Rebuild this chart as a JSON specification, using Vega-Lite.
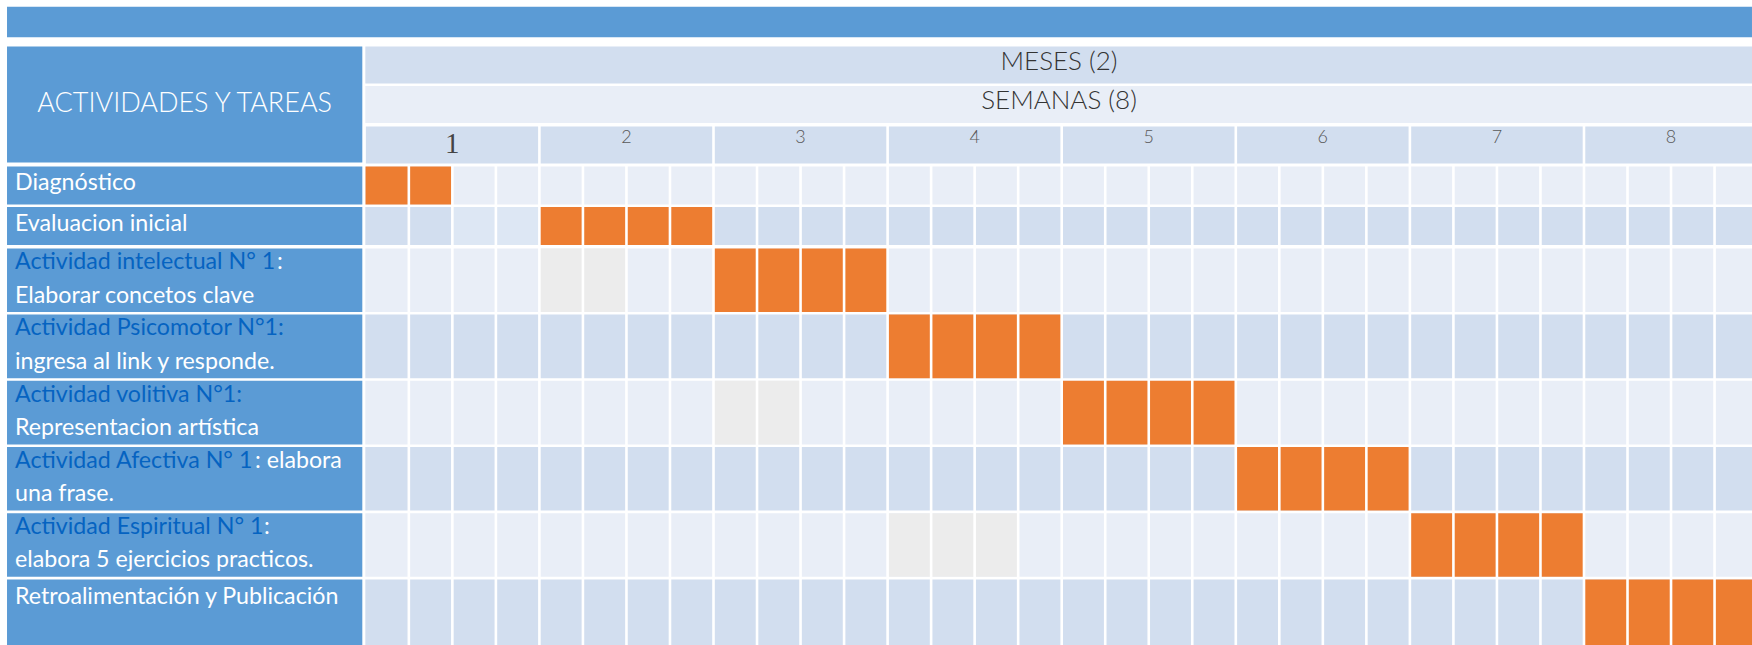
{
  "$schema": "https://vega.github.io/schema/vega-lite/v6.json",
  "background": "white",
  "padding": {"left": 7, "top": 6.7, "right": 0, "bottom": 0},
  "config": {"view": {"stroke": null}},
  "datasets": {
    "encabezado": [
      {"fila": "MESES", "texto": "MESES (2)", "tono": "oscura"},
      {"fila": "SEMANAS", "texto": "SEMANAS (8)", "tono": "clara"}
    ],
    "semanas": [
      {"semana": 1, "fila": "SEMANA", "tono": "oscura"},
      {"semana": 2, "fila": "SEMANA", "tono": "oscura"},
      {"semana": 3, "fila": "SEMANA", "tono": "oscura"},
      {"semana": 4, "fila": "SEMANA", "tono": "oscura"},
      {"semana": 5, "fila": "SEMANA", "tono": "oscura"},
      {"semana": 6, "fila": "SEMANA", "tono": "oscura"},
      {"semana": 7, "fila": "SEMANA", "tono": "oscura"},
      {"semana": 8, "fila": "SEMANA", "tono": "oscura"}
    ],
    "filas": [
      {"grupo": "simple", "fila": "Diagnóstico", "tono": "clara", "linea1": "Diagnóstico"},
      {"grupo": "simple", "fila": "Evaluacion inicial", "tono": "oscura", "linea1": "Evaluacion inicial"},
      {"grupo": "doble", "fila": "Actividad intelectual", "tono": "clara", "enlace": "Actividad intelectual N° 1", "cola": ":", "linea2": "Elaborar concetos clave"},
      {"grupo": "doble", "fila": "Actividad psicomotor", "tono": "oscura", "enlace": "Actividad  Psicomotor N°1:", "linea2": "ingresa al link  y responde."},
      {"grupo": "doble", "fila": "Actividad volitiva", "tono": "clara", "enlace": "Actividad volitiva  N°1:", "linea2": "Representacion artística"},
      {"grupo": "doble", "fila": "Actividad afectiva", "tono": "oscura", "enlace": "Actividad  Afectiva N° 1", "cola": ":  elabora", "linea2": "una frase."},
      {"grupo": "doble", "fila": "Actividad espiritual", "tono": "clara", "enlace": "Actividad Espiritual N° 1", "cola": ":", "linea2": "elabora 5 ejercicios practicos."},
      {"grupo": "ultima", "fila": "Retroalimentación", "tono": "oscura", "linea1": "Retroalimentación y Publicación"}
    ],
    "celdas": [
      {"grupo": "simple", "fila": "Diagnóstico", "inicio": 1, "fin": 1.5, "tono": "tarea"},
      {"grupo": "simple", "fila": "Evaluacion inicial", "inicio": 1.5, "fin": 2, "tono": "celeste"},
      {"grupo": "simple", "fila": "Evaluacion inicial", "inicio": 2, "fin": 3, "tono": "tarea"},
      {"grupo": "doble", "fila": "Actividad intelectual", "inicio": 2, "fin": 2.5, "tono": "gris"},
      {"grupo": "doble", "fila": "Actividad intelectual", "inicio": 3, "fin": 4, "tono": "tarea"},
      {"grupo": "doble", "fila": "Actividad psicomotor", "inicio": 4, "fin": 5, "tono": "tarea"},
      {"grupo": "doble", "fila": "Actividad volitiva", "inicio": 3, "fin": 3.5, "tono": "gris"},
      {"grupo": "doble", "fila": "Actividad volitiva", "inicio": 5, "fin": 6, "tono": "tarea"},
      {"grupo": "doble", "fila": "Actividad afectiva", "inicio": 6, "fin": 7, "tono": "tarea"},
      {"grupo": "doble", "fila": "Actividad espiritual", "inicio": 4, "fin": 4.75, "tono": "gris"},
      {"grupo": "doble", "fila": "Actividad espiritual", "inicio": 7, "fin": 8, "tono": "tarea"},
      {"grupo": "ultima", "fila": "Retroalimentación", "inicio": 8, "fin": 9, "tono": "tarea"}
    ],
    "limites": [
      {"limite": 1.25}, {"limite": 1.5}, {"limite": 1.75}, {"limite": 2},
      {"limite": 2.25}, {"limite": 2.5}, {"limite": 2.75}, {"limite": 3},
      {"limite": 3.25}, {"limite": 3.5}, {"limite": 3.75}, {"limite": 4},
      {"limite": 4.25}, {"limite": 4.5}, {"limite": 4.75}, {"limite": 5},
      {"limite": 5.25}, {"limite": 5.5}, {"limite": 5.75}, {"limite": 6},
      {"limite": 6.25}, {"limite": 6.5}, {"limite": 6.75}, {"limite": 7},
      {"limite": 7.25}, {"limite": 7.5}, {"limite": 7.75}, {"limite": 8},
      {"limite": 8.25}, {"limite": 8.5}, {"limite": 8.75}
    ]
  },
  "spacing": 7.4,
  "vconcat": [
    {
      "width": 1745,
      "height": 30.6,
      "data": {"values": [{"barra": "titulo"}]},
      "mark": {"type": "rect", "fill": "#5b9bd5"},
      "encoding": {}
    },
    {
      "spacing": 0,
      "vconcat": [
        {
          "spacing": 2.3,
          "hconcat": [
            {
              "width": 355.3,
              "height": 118.8,
              "data": {"values": [{"texto": "ACTIVIDADES Y TAREAS"}]},
              "layer": [
                {"mark": {"type": "rect", "fill": "#5b9bd5"},
                 "encoding": {"y": {"field": "texto", "type": "nominal", "scale": {"domain": ["ACTIVIDADES Y TAREAS"], "paddingInner": 0.02189, "paddingOuter": 0.010943}, "axis": null}}},
                {"mark": {"type": "text", "font": "Lato", "fontWeight": 300, "fontSize": 27, "color": "white", "align": "center", "baseline": "middle"},
                 "encoding": {"y": {"field": "texto", "type": "nominal", "scale": {"domain": ["ACTIVIDADES Y TAREAS"], "paddingInner": 0.02189, "paddingOuter": 0.010943}, "axis": null},
                              "text": {"field": "texto", "type": "nominal"}}}
              ]
            },
            {
              "spacing": 0,
              "vconcat": [
                {
                  "width": 1387.4,
                  "height": 79.2,
                  "data": {"name": "encabezado"},
                  "layer": [
                    {
                      "mark": {"type": "rect"},
                      "encoding": {
                        "y": {"field": "fila", "type": "nominal", "scale": {"domain": ["MESES", "SEMANAS"], "paddingInner": 0.06566, "paddingOuter": 0.03283}, "axis": null},
                        "fill": {"field": "tono", "type": "nominal", "scale": {"domain": ["oscura", "clara", "celeste", "gris", "tarea"], "range": ["#d2deef", "#e9eef7", "#dde7f4", "#ececec", "#ed7d31"]}, "legend": null}
                      }
                    },
                    {
                      "mark": {"type": "text", "font": "Lato", "fontWeight": 300, "fontSize": 26, "color": "#333333", "align": "center", "baseline": "middle", "dy": -3},
                      "encoding": {
                        "y": {"field": "fila", "type": "nominal", "scale": {"domain": ["MESES", "SEMANAS"], "paddingInner": 0.06566, "paddingOuter": 0.03283}, "axis": null},
                        "text": {"field": "texto", "type": "nominal"}
                      }
                    }
                  ]
                },
                {
                  "width": 1387.4,
                  "height": 39.6,
                  "layer": [
                    {
                      "data": {"name": "semanas"},
                      "mark": {"type": "rect", "clip": true},
                      "encoding": {
                        "x": {"field": "semana", "type": "quantitative", "bin": {"step": 1, "extent": [1, 9]}, "scale": {"domain": [1, 8.969], "nice": false, "zero": false}, "axis": null},
                        "y": {"field": "fila", "type": "nominal", "scale": {"domain": ["SEMANA"], "paddingInner": 0.06566, "paddingOuter": 0.03283}, "axis": null},
                        "fill": {"field": "tono", "type": "nominal", "scale": {"domain": ["oscura", "clara", "celeste", "gris", "tarea"], "range": ["#d2deef", "#e9eef7", "#dde7f4", "#ececec", "#ed7d31"]}, "legend": null}
                      }
                    },
                    {
                      "data": {"name": "limites"},
                      "transform": [{"filter": "datum.limite % 1 === 0"}],
                      "mark": {"type": "rule", "color": "white", "strokeWidth": 2.6, "clip": true},
                      "encoding": {"x": {"field": "limite", "type": "quantitative", "axis": null}}
                    },
                    {
                      "data": {"name": "semanas"},
                      "transform": [{"filter": "datum.semana > 1"}],
                      "mark": {"type": "text", "font": "Lato", "fontWeight": 300, "fontSize": 18, "color": "#595959", "align": "center", "baseline": "top", "dy": 3},
                      "encoding": {
                        "x": {"field": "semana", "type": "quantitative", "bin": {"step": 1, "extent": [1, 9]}, "axis": null},
                        "y": {"field": "fila", "type": "nominal", "bandPosition": 0, "scale": {"domain": ["SEMANA"], "paddingInner": 0.06566, "paddingOuter": 0.03283}, "axis": null},
                        "text": {"field": "semana", "type": "nominal"}
                      }
                    },
                    {
                      "data": {"name": "semanas"},
                      "transform": [{"filter": "datum.semana === 1"}],
                      "mark": {"type": "text", "font": "Liberation Serif", "fontSize": 29, "color": "#444444", "align": "center", "baseline": "middle", "dy": -1},
                      "encoding": {
                        "x": {"field": "semana", "type": "quantitative", "bin": {"step": 1, "extent": [1, 9]}, "axis": null},
                        "y": {"field": "fila", "type": "nominal", "scale": {"domain": ["SEMANA"], "paddingInner": 0.06566, "paddingOuter": 0.03283}, "axis": null},
                        "text": {"field": "semana", "type": "nominal"}
                      }
                    }
                  ]
                }
              ]
            }
          ]
        },
        {
          "spacing": 2.3,
          "hconcat": [
            {
              "width": 355.3,
              "height": 81.2,
              "data": {"name": "filas"},
              "transform": [{"filter": "datum.grupo === 'simple'"}],
              "layer": [
                {"mark": {"type": "rect", "fill": "#5b9bd5"},
                 "encoding": {"y": {"field": "fila", "type": "nominal", "scale": {"domain": ["Diagnóstico", "Evaluacion inicial"], "paddingInner": 0.06404, "paddingOuter": 0.03202}, "axis": null}}},
                {"mark": {"type": "text", "font": "Lato", "fontSize": 23.2, "color": "white", "align": "left", "baseline": "middle", "dx": 8, "dy": -2},
                 "encoding": {
                   "x": {"datum": 0, "type": "quantitative", "scale": {"domain": [0, 1]}, "axis": null},
                   "y": {"field": "fila", "type": "nominal", "scale": {"domain": ["Diagnóstico", "Evaluacion inicial"], "paddingInner": 0.06404, "paddingOuter": 0.03202}, "axis": null},
                   "text": {"field": "linea1", "type": "nominal"}
                 }}
              ]
            },
            {
              "width": 1387.4,
              "height": 81.2,
              "layer": [
                {
                  "data": {"name": "filas"},
                  "transform": [{"filter": "datum.grupo === 'simple'"}],
                  "mark": {"type": "rect"},
                  "encoding": {
                    "y": {"field": "fila", "type": "nominal", "scale": {"domain": ["Diagnóstico", "Evaluacion inicial"], "paddingInner": 0.06404, "paddingOuter": 0.03202}, "axis": null},
                    "fill": {"field": "tono", "type": "nominal", "scale": {"domain": ["oscura", "clara", "celeste", "gris", "tarea"], "range": ["#d2deef", "#e9eef7", "#dde7f4", "#ececec", "#ed7d31"]}, "legend": null}
                  }
                },
                {
                  "data": {"name": "celdas"},
                  "transform": [{"filter": "datum.grupo === 'simple'"}],
                  "mark": {"type": "rect", "clip": true},
                  "encoding": {
                    "x": {"field": "inicio", "type": "quantitative", "scale": {"domain": [1, 8.969], "nice": false, "zero": false}, "axis": null},
                    "x2": {"field": "fin"},
                    "y": {"field": "fila", "type": "nominal", "scale": {"domain": ["Diagnóstico", "Evaluacion inicial"], "paddingInner": 0.06404, "paddingOuter": 0.03202}, "axis": null},
                    "fill": {"field": "tono", "type": "nominal", "scale": {"domain": ["oscura", "clara", "celeste", "gris", "tarea"], "range": ["#d2deef", "#e9eef7", "#dde7f4", "#ececec", "#ed7d31"]}, "legend": null}
                  }
                },
                {
                  "data": {"name": "limites"},
                  "mark": {"type": "rule", "color": "white", "strokeWidth": 2.6, "clip": true},
                  "encoding": {"x": {"field": "limite", "type": "quantitative", "axis": null}}
                }
              ]
            }
          ]
        },
        {
          "spacing": 2.3,
          "hconcat": [
            {
              "width": 355.3,
              "height": 331,
              "data": {"name": "filas"},
              "transform": [{"filter": "datum.grupo === 'doble'"}],
              "layer": [
                {"mark": {"type": "rect", "fill": "#5b9bd5"},
                 "encoding": {"y": {"field": "fila", "type": "nominal", "scale": {"domain": ["Actividad intelectual", "Actividad psicomotor", "Actividad volitiva", "Actividad afectiva", "Actividad espiritual"], "paddingInner": 0.03927, "paddingOuter": 0.019637}, "axis": null}}},
                {"mark": {"type": "text", "font": "Lato", "fontSize": 23.2, "color": "#0563c1", "align": "left", "baseline": "middle", "dx": 8, "dy": -18},
                 "encoding": {
                   "x": {"datum": 0, "type": "quantitative", "scale": {"domain": [0, 1]}, "axis": null},
                   "y": {"field": "fila", "type": "nominal", "scale": {"domain": ["Actividad intelectual", "Actividad psicomotor", "Actividad volitiva", "Actividad afectiva", "Actividad espiritual"], "paddingInner": 0.03927, "paddingOuter": 0.019637}, "axis": null},
                   "text": {"field": "enlace", "type": "nominal"}
                 }},
                {"transform": [{"filter": "datum.fila === 'Actividad intelectual'"}],
                 "mark": {"type": "text", "font": "Lato", "fontSize": 23.2, "color": "white", "align": "left", "baseline": "middle", "dx": 270, "dy": -18},
                 "encoding": {
                   "x": {"datum": 0, "type": "quantitative", "scale": {"domain": [0, 1]}, "axis": null},
                   "y": {"field": "fila", "type": "nominal", "scale": {"domain": ["Actividad intelectual", "Actividad psicomotor", "Actividad volitiva", "Actividad afectiva", "Actividad espiritual"], "paddingInner": 0.03927, "paddingOuter": 0.019637}, "axis": null},
                   "text": {"field": "cola", "type": "nominal"}
                 }},
                {"transform": [{"filter": "datum.fila === 'Actividad afectiva'"}],
                 "mark": {"type": "text", "font": "Lato", "fontSize": 23.2, "color": "white", "align": "left", "baseline": "middle", "dx": 248, "dy": -18},
                 "encoding": {
                   "x": {"datum": 0, "type": "quantitative", "scale": {"domain": [0, 1]}, "axis": null},
                   "y": {"field": "fila", "type": "nominal", "scale": {"domain": ["Actividad intelectual", "Actividad psicomotor", "Actividad volitiva", "Actividad afectiva", "Actividad espiritual"], "paddingInner": 0.03927, "paddingOuter": 0.019637}, "axis": null},
                   "text": {"field": "cola", "type": "nominal"}
                 }},
                {"transform": [{"filter": "datum.fila === 'Actividad espiritual'"}],
                 "mark": {"type": "text", "font": "Lato", "fontSize": 23.2, "color": "white", "align": "left", "baseline": "middle", "dx": 257, "dy": -18},
                 "encoding": {
                   "x": {"datum": 0, "type": "quantitative", "scale": {"domain": [0, 1]}, "axis": null},
                   "y": {"field": "fila", "type": "nominal", "scale": {"domain": ["Actividad intelectual", "Actividad psicomotor", "Actividad volitiva", "Actividad afectiva", "Actividad espiritual"], "paddingInner": 0.03927, "paddingOuter": 0.019637}, "axis": null},
                   "text": {"field": "cola", "type": "nominal"}
                 }},
                {"mark": {"type": "text", "font": "Lato", "fontSize": 23.2, "color": "white", "align": "left", "baseline": "middle", "dx": 8, "dy": 15.5},
                 "encoding": {
                   "x": {"datum": 0, "type": "quantitative", "scale": {"domain": [0, 1]}, "axis": null},
                   "y": {"field": "fila", "type": "nominal", "scale": {"domain": ["Actividad intelectual", "Actividad psicomotor", "Actividad volitiva", "Actividad afectiva", "Actividad espiritual"], "paddingInner": 0.03927, "paddingOuter": 0.019637}, "axis": null},
                   "text": {"field": "linea2", "type": "nominal"}
                 }}
              ]
            },
            {
              "width": 1387.4,
              "height": 331,
              "layer": [
                {
                  "data": {"name": "filas"},
                  "transform": [{"filter": "datum.grupo === 'doble'"}],
                  "mark": {"type": "rect"},
                  "encoding": {
                    "y": {"field": "fila", "type": "nominal", "scale": {"domain": ["Actividad intelectual", "Actividad psicomotor", "Actividad volitiva", "Actividad afectiva", "Actividad espiritual"], "paddingInner": 0.03927, "paddingOuter": 0.019637}, "axis": null},
                    "fill": {"field": "tono", "type": "nominal", "scale": {"domain": ["oscura", "clara", "celeste", "gris", "tarea"], "range": ["#d2deef", "#e9eef7", "#dde7f4", "#ececec", "#ed7d31"]}, "legend": null}
                  }
                },
                {
                  "data": {"name": "celdas"},
                  "transform": [{"filter": "datum.grupo === 'doble'"}],
                  "mark": {"type": "rect", "clip": true},
                  "encoding": {
                    "x": {"field": "inicio", "type": "quantitative", "scale": {"domain": [1, 8.969], "nice": false, "zero": false}, "axis": null},
                    "x2": {"field": "fin"},
                    "y": {"field": "fila", "type": "nominal", "scale": {"domain": ["Actividad intelectual", "Actividad psicomotor", "Actividad volitiva", "Actividad afectiva", "Actividad espiritual"], "paddingInner": 0.03927, "paddingOuter": 0.019637}, "axis": null},
                    "fill": {"field": "tono", "type": "nominal", "scale": {"domain": ["oscura", "clara", "celeste", "gris", "tarea"], "range": ["#d2deef", "#e9eef7", "#dde7f4", "#ececec", "#ed7d31"]}, "legend": null}
                  }
                },
                {
                  "data": {"name": "limites"},
                  "mark": {"type": "rule", "color": "white", "strokeWidth": 2.6, "clip": true},
                  "encoding": {"x": {"field": "limite", "type": "quantitative", "axis": null}}
                }
              ]
            }
          ]
        },
        {
          "spacing": 2.3,
          "hconcat": [
            {
              "width": 355.3,
              "height": 69.3,
              "data": {"name": "filas"},
              "transform": [{"filter": "datum.grupo === 'ultima'"}],
              "layer": [
                {"mark": {"type": "rect", "fill": "#5b9bd5"},
                 "encoding": {"y": {"field": "fila", "type": "nominal", "scale": {"domain": ["Retroalimentación"], "paddingInner": 0, "paddingOuter": 0.00956, "align": 1}, "axis": null}}},
                {"mark": {"type": "text", "font": "Lato", "fontSize": 23.2, "color": "white", "align": "left", "baseline": "middle", "dx": 8, "dy": -16.5},
                 "encoding": {
                   "x": {"datum": 0, "type": "quantitative", "scale": {"domain": [0, 1]}, "axis": null},
                   "y": {"field": "fila", "type": "nominal", "scale": {"domain": ["Retroalimentación"], "paddingInner": 0, "paddingOuter": 0.00956, "align": 1}, "axis": null},
                   "text": {"field": "linea1", "type": "nominal"}
                 }}
              ]
            },
            {
              "width": 1387.4,
              "height": 69.3,
              "layer": [
                {
                  "data": {"name": "filas"},
                  "transform": [{"filter": "datum.grupo === 'ultima'"}],
                  "mark": {"type": "rect"},
                  "encoding": {
                    "y": {"field": "fila", "type": "nominal", "scale": {"domain": ["Retroalimentación"], "paddingInner": 0, "paddingOuter": 0.00956, "align": 1}, "axis": null},
                    "fill": {"field": "tono", "type": "nominal", "scale": {"domain": ["oscura", "clara", "celeste", "gris", "tarea"], "range": ["#d2deef", "#e9eef7", "#dde7f4", "#ececec", "#ed7d31"]}, "legend": null}
                  }
                },
                {
                  "data": {"name": "celdas"},
                  "transform": [{"filter": "datum.grupo === 'ultima'"}],
                  "mark": {"type": "rect", "clip": true},
                  "encoding": {
                    "x": {"field": "inicio", "type": "quantitative", "scale": {"domain": [1, 8.969], "nice": false, "zero": false}, "axis": null},
                    "x2": {"field": "fin"},
                    "y": {"field": "fila", "type": "nominal", "scale": {"domain": ["Retroalimentación"], "paddingInner": 0, "paddingOuter": 0.00956, "align": 1}, "axis": null},
                    "fill": {"field": "tono", "type": "nominal", "scale": {"domain": ["oscura", "clara", "celeste", "gris", "tarea"], "range": ["#d2deef", "#e9eef7", "#dde7f4", "#ececec", "#ed7d31"]}, "legend": null}
                  }
                },
                {
                  "data": {"name": "limites"},
                  "mark": {"type": "rule", "color": "white", "strokeWidth": 2.6, "clip": true},
                  "encoding": {"x": {"field": "limite", "type": "quantitative", "axis": null}}
                }
              ]
            }
          ]
        }
      ]
    }
  ]
}
